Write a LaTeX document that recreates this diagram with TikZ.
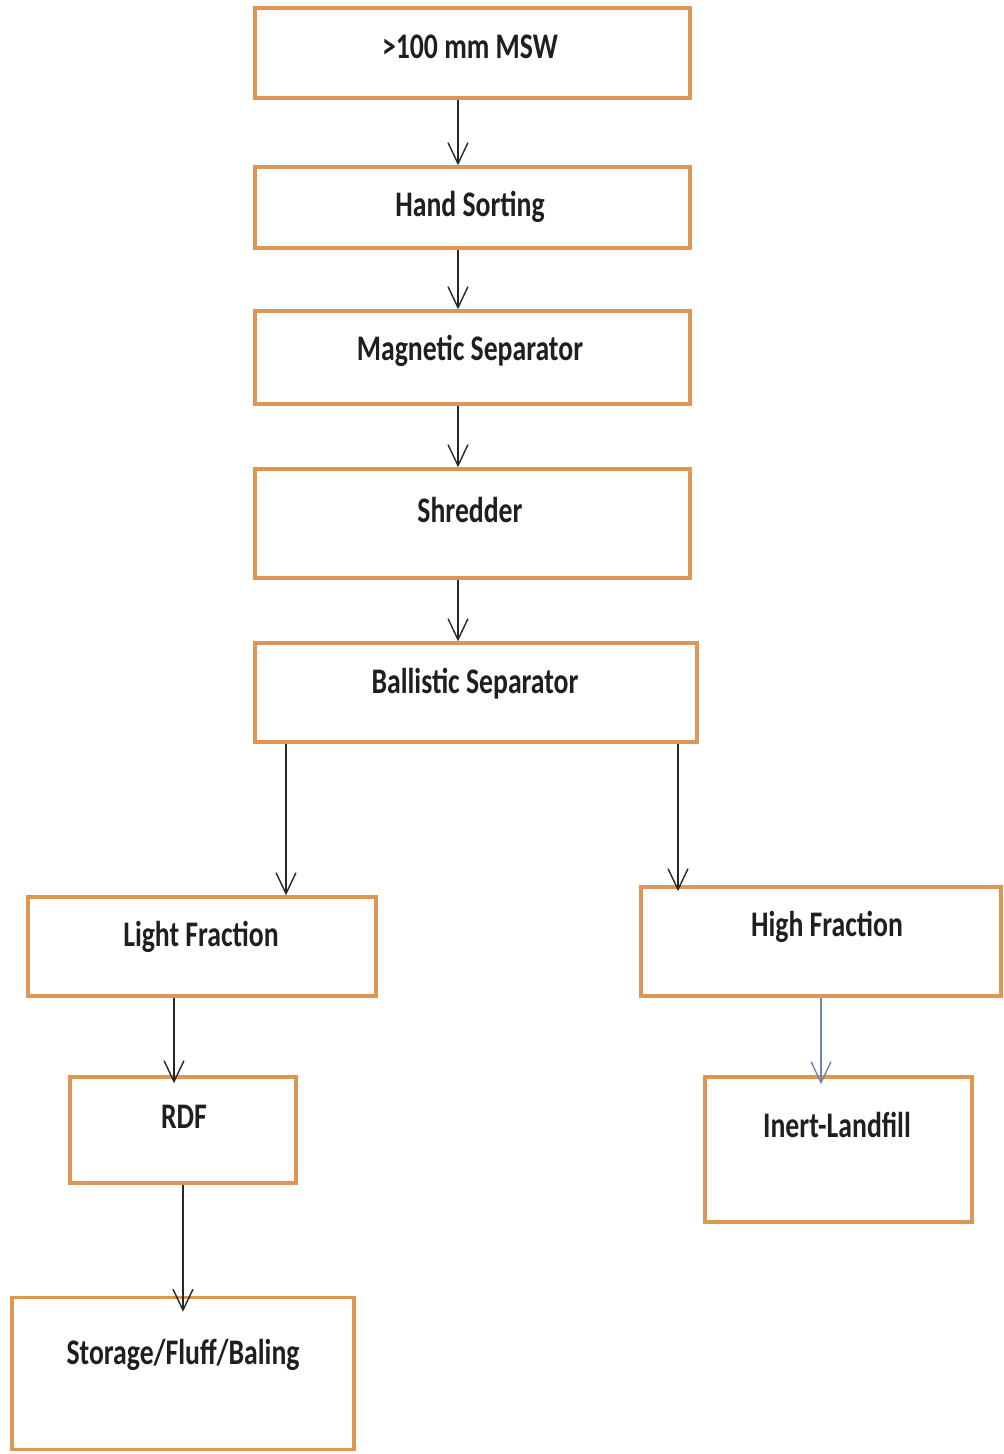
\documentclass[tikz,border=0pt]{standalone}
\usepackage{fontspec}
\setmainfont[FakeStretch=0.77]{Carlito}
\usetikzlibrary{arrows.meta}
\definecolor{boxorange}{RGB}{222,150,85}
\definecolor{arrblue}{RGB}{110,135,175}
\tikzset{
  box/.style={draw=boxorange, line width=3.5pt, fill=white, rectangle, inner sep=0pt},
  txt/.style={font=\fontsize{36}{40}\selectfont\bfseries, text=black!88, inner sep=0pt},
  arr/.style={line width=1.4pt, draw=black!85, -{Straight Barb[length=21pt,width=20pt,line width=1.4pt]}},
}
\begin{document}
\begin{tikzpicture}[x=1pt,y=-1pt]
\useasboundingbox (0,0) rectangle (1004,1454);
% boxes
\node[box, minimum width=435pt, minimum height=90pt] (msw) at (472.5,53) {};
\node[box, minimum width=435pt, minimum height=81pt] (hs) at (472.5,207.5) {};
\node[box, minimum width=435pt, minimum height=93pt] (mag) at (472.5,357.5) {};
\node[box, minimum width=435pt, minimum height=109pt] (shr) at (472.5,523.5) {};
\node[box, minimum width=442pt, minimum height=99pt] (bal) at (476,692.5) {};
\node[box, minimum width=348pt, minimum height=99pt] (lf) at (202,946.5) {};
\node[box, minimum width=360pt, minimum height=109pt] (hf) at (821,941.5) {};
\node[box, minimum width=226pt, minimum height=106pt] (rdf) at (183,1130) {};
\node[box, minimum width=267pt, minimum height=145pt] (inl) at (838.5,1149.5) {};
\node[box, minimum width=342pt, minimum height=152pt] (sto) at (183,1373.5) {};
% texts
\node[txt] (tmsw) at (470,47) {>100 mm MSW};
\node[txt] (ths) at (470,207) {Hand Sorting};
\node[txt] (tmag) at (470,351) {Magnetic Separator};
\node[txt] (tshr) at (470,510) {Shredder};
\node[txt] (tbal) at (475,684) {Ballistic Separator};
\node[txt] (tlf) at (201,937) {Light Fraction};
\node[txt] (thf) at (827,927) {High Fraction};
\node[txt] (trdf) at (184,1117) {RDF};
\node[txt] (tinl) at (837,1125) {Inert-Landfill};
\node[txt] (tsto) at (183,1355) {Storage/Fluff/Baling};
% columns
\coordinate (c1) at (458,0);
\coordinate (c2) at (286,0);
\coordinate (c3) at (678,0);
\coordinate (c4) at (174,0);
\coordinate (c5) at (821,0);
\coordinate (c6) at (183,0);
% arrows
\draw[arr] (msw.south -| c1) -- (hs.north -| c1);
\draw[arr] (hs.south -| c1) -- (mag.north -| c1);
\draw[arr] (mag.south -| c1) -- (shr.north -| c1);
\draw[arr] (shr.south -| c1) -- (bal.north -| c1);
\draw[arr] (bal.south -| c2) -- (lf.north -| c2);
\draw[arr] (bal.south -| c3) -- ([yshift=-6pt]hf.north -| c3);
\draw[arr] (lf.south -| c4) -- ([yshift=-8pt]rdf.north -| c4);
\draw[arr, draw=arrblue] (hf.south -| c5) -- ([yshift=-9pt]inl.north -| c5);
\draw[arr] (rdf.south -| c6) -- ([yshift=-16pt]sto.north -| c6);
\end{tikzpicture}
\end{document}
